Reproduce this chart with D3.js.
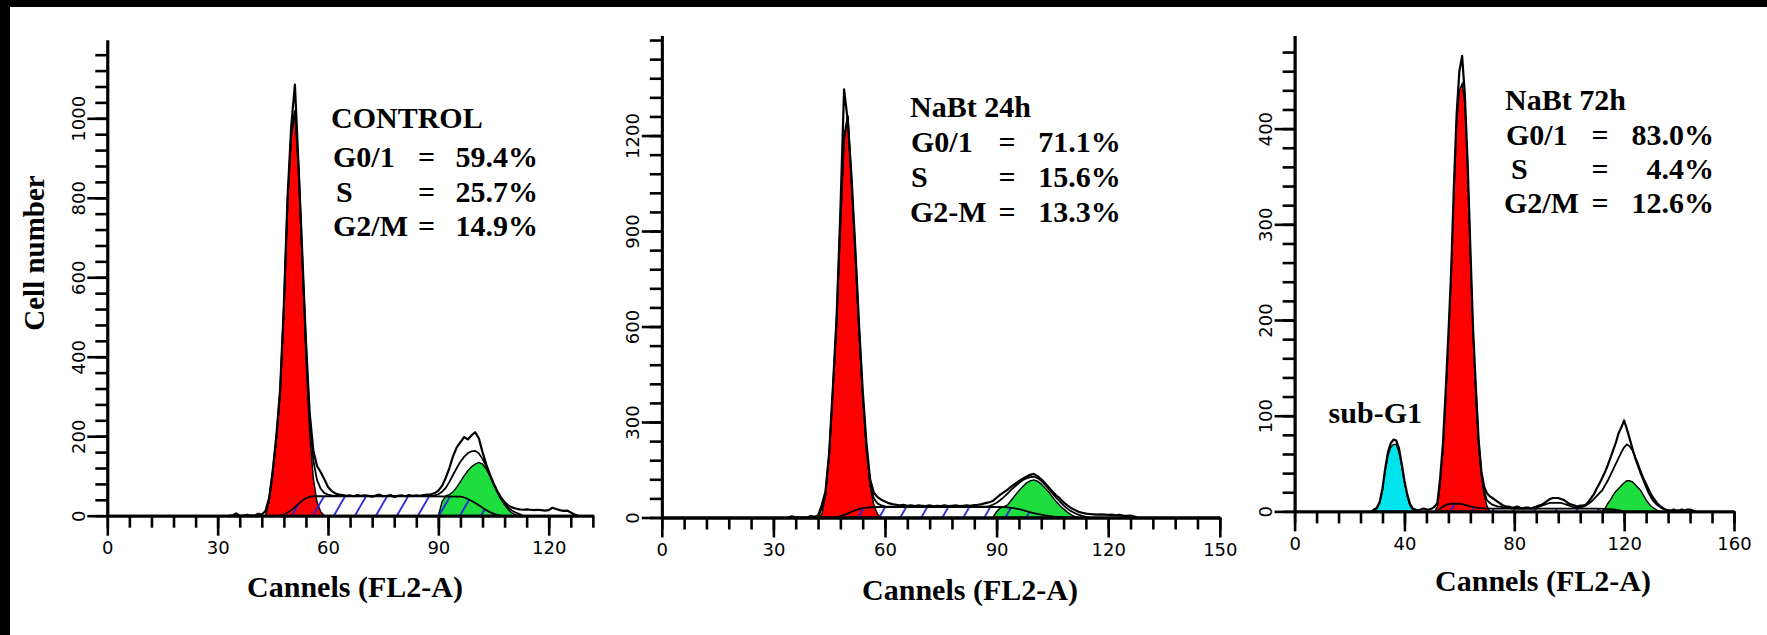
<!DOCTYPE html>
<html>
<head>
<meta charset="utf-8">
<script src="https://cdn.jsdelivr.net/npm/d3@7"></script>
<style>
  body { margin: 0; background: #fff; }
  svg { display: block; }
</style>
</head>
<body>
<div id="chart"></div>
<script>
// ---- CONTROL ----
const p1RawStart = 33;
const p1Raw = [0, 0, 6, 0, 0, 2, 0, 0, 5, 3, 12, 45, 115, 205, 320, 530, 800, 980, 1085, 880,
  660, 440, 260, 165, 125, 110, 92, 72, 62, 56, 53, 52, 50, 51, 49, 52, 50, 51, 50, 48,
  51, 53, 49, 50, 52, 47, 50, 51, 49, 52, 50, 51, 50, 52, 53, 54, 57, 63, 75, 95,
  120, 150, 172, 185, 198, 192, 202, 210, 195, 160, 130, 104, 82, 62, 46, 34, 26, 21, 18, 16,
  15, 16, 15, 14, 15, 14, 13, 14, 20, 17, 14, 12, 13, 8, 3, 0];
const p1FitStart = 43;
const p1Fit = [8, 42, 112, 200, 315, 525, 790, 960, 1020, 875, 650, 425, 245, 140, 90, 68, 57, 53, 51,
  50, 50, 50, 50, 50, 50, 50, 50, 50, 50, 50, 50, 50, 50, 50, 50, 50, 50, 50, 50, 50, 50, 50, 50, 50, 50, 50,
  51, 54, 60, 70, 85, 103, 120, 136, 148, 157, 162, 163, 157, 143, 124, 102, 80, 60, 43, 30, 20, 13, 8, 4, 0];
const p1G1Start = 43;
const p1G1 = [0, 35, 105, 195, 305, 515, 780, 950, 1015, 870, 640, 400, 210, 95, 35, 10, 0];
const p1G2Start = 90;
const p1G2 = [0, 35, 50, 53, 60, 72, 86, 100, 113, 123, 130, 134, 130, 118, 100, 80, 60, 42, 27, 15, 7, 2, 0];
const p1SCh = [47, 48, 50, 52, 54, 56, 70, 85, 96, 98, 100, 102, 104, 106, 107];
const p1SVal = [0, 3, 14, 30, 44, 49, 49, 49, 48, 42, 32, 20, 9, 2, 0];
const p1Title = "CONTROL";
const p1Labels = ["G0/1", "S", "G2/M"];
const p1Values = ["59.4%", "25.7%", "14.9%"];
const p1XTicks = [0, 30, 60, 90, 120];
const p1YTicks = [0, 200, 400, 600, 800, 1000];

// ---- NaBt 24h ----
const p2RawStart = 34;
const p2Raw = [0, 4, 0, 0, 0, 0, 5, 2, 6, 38, 82, 205, 410, 632, 960, 1345, 1245, 1070, 850, 610,
  400, 235, 120, 78, 64, 56, 50, 45, 42, 40, 38, 40, 37, 38, 36, 38, 37, 36, 38, 35,
  37, 36, 38, 36, 37, 38, 36, 37, 38, 37, 39, 40, 42, 45, 48, 52, 62, 72, 80, 88,
  98, 106, 114, 122, 128, 134, 137, 130, 120, 108, 95, 82, 70, 60, 48, 38, 30, 24, 18, 15,
  12, 11, 10, 9, 10, 9, 8, 9, 7, 8, 6, 5, 6, 3, 0];
const p2FitStart = 42;
const p2Fit = [0, 30, 75, 198, 405, 620, 930, 1200, 1262, 1055, 835, 595, 385, 222, 108, 60, 44, 38, 35,
  34, 34, 34, 34, 34, 34, 34, 34, 34, 34, 34, 34, 34, 34, 34, 34, 34, 34, 34, 34, 34, 34, 34, 34, 34, 34, 34,
  36, 40, 46, 55, 65, 76, 88, 98, 108, 117, 123, 127, 128, 124, 115, 103, 90, 76, 62, 50, 38, 28, 20, 14, 9, 5, 2, 0];
const p2G1Start = 42;
const p2G1 = [0, 10, 70, 195, 400, 615, 900, 1180, 1262, 1050, 830, 590, 380, 215, 100, 40, 10, 0];
const p2G2Start = 89;
const p2G2 = [0, 18, 30, 34, 40, 55, 70, 84, 97, 108, 115, 118, 114, 105, 93, 80, 65, 50, 38, 27, 17, 9, 3, 0];
const p2SCh = [47, 49, 51, 53, 55, 58, 70, 85, 92, 94, 96, 98, 100, 102, 104, 106, 108];
const p2SVal = [0, 8, 18, 26, 31, 33, 33, 33, 33, 30, 26, 20, 14, 9, 5, 2, 0];
const p2Title = "NaBt 24h";
const p2Labels = ["G0/1", "S", "G2-M"];
const p2Values = ["71.1%", "15.6%", "13.3%"];
const p2XTicks = [0, 30, 60, 90, 120, 150];
const p2YTicks = [0, 300, 600, 900, 1200];

// ---- NaBt 72h ----
const p3RawStart = 28;
const p3Raw = [0, 2, 4, 10, 24, 45, 62, 71, 75, 74, 66, 50, 32, 18, 8, 3, 2, 1, 2, 3,
  2, 2, 3, 5, 9, 35, 70, 125, 185, 250, 340, 415, 460, 476, 435, 365, 275, 190, 130, 75,
  42, 26, 19, 16, 14, 12, 10, 8, 6, 5, 5, 4, 4, 5, 4, 3, 4, 4, 3, 4,
  5, 6, 7, 9, 11, 13, 14, 14, 14, 13, 12, 10, 8, 7, 6, 5, 6, 6, 7, 10,
  14, 18, 24, 29, 35, 41, 48, 56, 64, 72, 82, 88, 95, 86, 76, 66, 56, 48, 40, 33,
  26, 19, 14, 10, 7, 5, 3, 2, 1, 1, 2, 1, 1, 2, 1, 2, 2, 1, 0];
const p3FitStart = 66;
const p3Fit = [124, 72, 40, 21, 12, 9, 7, 6, 5, 5, 4, 4, 4, 3, 3, 3, 3, 3, 3, 3, 3, 3, 4, 5,
  6, 7, 8, 9, 9, 9, 9, 9, 8, 7, 6, 5, 4, 4, 4, 5, 6, 8, 10, 13, 16, 19, 22, 27, 32, 38,
  44, 50, 56, 62, 67, 70, 68, 64, 57, 50, 42, 35, 29, 23, 17, 13, 9, 6, 4, 2, 1, 0];
const p3G1Start = 51;
const p3G1 = [0, 5, 28, 62, 115, 178, 245, 330, 405, 440, 447, 425, 360, 270, 185, 122, 70, 38, 18, 6, 0];
const p3G2Start = 112;
const p3G2 = [0, 3, 8, 12, 17, 21, 24, 27, 30, 32, 32, 31, 28, 25, 22, 17, 12, 8, 5, 3, 1, 0];
const p3SubStart = 29;
const p3SubG1 = [0, 3, 9, 22, 42, 58, 67, 70, 70, 62, 47, 30, 16, 6, 2, 0];
const p3SCh = [52, 54, 57, 60, 63, 66, 72, 90, 110, 116, 120];
const p3SVal = [0, 5, 8, 8, 6, 4, 3, 3, 3, 2, 0];
const p3Title = "NaBt 72h";
const p3Labels = ["G0/1", "S", "G2/M"];
const p3Values = ["83.0%", "4.4%", "12.6%"];
const p3XTicks = [0, 40, 80, 120, 160];
const p3YTicks = [0, 100, 200, 300, 400];

const W = 1767, H = 635;
const serif = "'Liberation Serif', 'Times New Roman', serif";
const tickFont = "'DejaVu Sans', sans-serif";

function series(start, vals) {
  return vals.map((v, i) => ({ c: start + i, v: v }));
}
function pairs(chs, vals) {
  return chs.map((c, i) => ({ c: c, v: vals[i] }));
}

const panels = [
  {
    raw: series(p1RawStart, p1Raw), fit: series(p1FitStart, p1Fit),
    g1: series(p1G1Start, p1G1), g2: series(p1G2Start, p1G2), s: pairs(p1SCh, p1SVal),
    title: p1Title, labels: p1Labels, values: p1Values, xTicks: p1XTicks, yTicks: p1YTicks,
    x0: 107.3, x1: 593.6, xEnd: 132.2, xStep: 6,
    y0: 515.7, y1: 40, yEnd: 1197, yStep: 40,
    tx: 331, ty: 128, lx: [333, 336, 333], eqX: 426.6, vx: 538, ly: [167, 202, 236],
    axTitleX: 355, axTitleY: 597
  },
  {
    raw: series(p2RawStart, p2Raw), fit: series(p2FitStart, p2Fit),
    g1: series(p2G1Start, p2G1), g2: series(p2G2Start, p2G2), s: pairs(p2SCh, p2SVal),
    title: p2Title, labels: p2Labels, values: p2Values, xTicks: p2XTicks, yTicks: p2YTicks,
    x0: 661.8, x1: 1219.8, xEnd: 150, xStep: 6,
    y0: 517.5, y1: 35.4, yEnd: 1514.6, yStep: 60,
    tx: 910, ty: 117, lx: [911, 911, 910], eqX: 1007, vx: 1120.7, ly: [152, 187, 222],
    axTitleX: 970, axTitleY: 600
  },
  {
    raw: series(p3RawStart, p3Raw), fit: series(p3FitStart, p3Fit),
    g1: series(p3G1Start, p3G1), g2: series(p3G2Start, p3G2), s: pairs(p3SCh, p3SVal),
    sub: series(p3SubStart, p3SubG1),
    title: p3Title, labels: p3Labels, values: p3Values, xTicks: p3XTicks, yTicks: p3YTicks,
    x0: 1294.6, x1: 1734, xEnd: 160, xStep: 8,
    y0: 511.4, y1: 35.4, yEnd: 497.4, yStep: 20,
    tx: 1505, ty: 110, lx: [1506, 1511, 1504], eqX: 1600, vx: 1714, ly: [145, 179, 213],
    axTitleX: 1543, axTitleY: 591
  }
];

const svg = d3.select("#chart").append("svg")
  .attr("width", W)
  .attr("height", H);

svg.append("rect").attr("width", W).attr("height", H).attr("fill", "#fff");
// black frame strips at top and left of the scan
svg.append("rect").attr("x", 0).attr("y", 0).attr("width", W).attr("height", 7).attr("fill", "#000");
svg.append("rect").attr("x", 0).attr("y", 0).attr("width", 10).attr("height", H).attr("fill", "#000");

// blue diagonal hatch for S phase
const pat = svg.append("defs").append("pattern")
  .attr("id", "hatch")
  .attr("patternUnits", "userSpaceOnUse")
  .attr("width", 18.2).attr("height", 18.2)
  .attr("patternTransform", "rotate(30)");
pat.append("line")
  .attr("x1", 1).attr("y1", 0).attr("x2", 1).attr("y2", 18.2)
  .attr("stroke", "#2424d8").attr("stroke-width", 1.8);

panels.forEach(p => {
  const g = svg.append("g");
  const x = d3.scaleLinear().domain([0, p.xEnd]).range([p.x0, p.x1]);
  const y = d3.scaleLinear().domain([0, p.yEnd]).range([p.y0, p.y1]);

  const area = d3.area().x(d => x(d.c)).y0(y(0)).y1(d => y(d.v));
  const line = d3.line().x(d => x(d.c)).y(d => y(d.v));
  const sArea = d3.area().x(d => x(d.c)).y0(y(0)).y1(d => y(d.v)).curve(d3.curveMonotoneX);
  const sLine = d3.line().x(d => x(d.c)).y(d => y(d.v)).curve(d3.curveMonotoneX);

  if (p.sub) {
    g.append("path").datum(p.sub).attr("d", area)
      .attr("fill", "#00e4ee").attr("stroke", "#000").attr("stroke-width", 1.4);
  }
  g.append("path").datum(p.g1).attr("d", area)
    .attr("fill", "#ff0000").attr("stroke", "#000").attr("stroke-width", 1.4);
  g.append("path").datum(p.g2).attr("d", area)
    .attr("fill", "#1fdc3f").attr("stroke", "#000").attr("stroke-width", 1.4);

  g.append("path").datum(p.s).attr("d", sArea).attr("fill", "url(#hatch)");
  g.append("path").datum(p.s).attr("d", sLine)
    .attr("fill", "none").attr("stroke", "#000").attr("stroke-width", 1.8);

  g.append("path").datum(p.fit).attr("d", line)
    .attr("fill", "none").attr("stroke", "#000").attr("stroke-width", 1.8);
  g.append("path").datum(p.raw).attr("d", line)
    .attr("fill", "none").attr("stroke", "#000").attr("stroke-width", 2.2)
    .attr("stroke-linejoin", "round");

  // axes: minor and major ticks drawn as two passes
  const fmt = d3.format("d");
  const xMinor = d3.axisBottom(x).tickValues(d3.range(0, p.xEnd + 0.01, p.xStep))
    .tickSize(12).tickFormat("").tickSizeOuter(0);
  const xMajor = d3.axisBottom(x).tickValues(p.xTicks).tickFormat(fmt)
    .tickSize(20).tickPadding(6).tickSizeOuter(0);
  const yMinor = d3.axisLeft(y).tickValues(d3.range(0, p.yEnd, p.yStep))
    .tickSize(12).tickFormat("").tickSizeOuter(0);
  const yMajor = d3.axisLeft(y).tickValues(p.yTicks).tickFormat(fmt)
    .tickSize(20).tickSizeOuter(0);

  [xMinor, xMajor].forEach(ax => {
    g.append("g").attr("class", "xax").attr("transform", "translate(0," + p.y0 + ")").call(ax);
  });
  [yMinor, yMajor].forEach(ax => {
    g.append("g").attr("class", "yax").attr("transform", "translate(" + p.x0 + ",0)").call(ax);
  });

  g.selectAll(".domain").attr("stroke", "#000").attr("stroke-width", 2.8);
  g.selectAll(".tick line").attr("stroke", "#000").attr("stroke-width", 2.6);
  g.selectAll(".tick text")
    .attr("font-family", tickFont).attr("font-size", 18).attr("fill", "#000");

  // y tick labels are rotated, reading upwards
  g.selectAll(".yax .tick text")
    .attr("transform", "rotate(-90)")
    .attr("x", 0).attr("y", -29).attr("dy", "0.36em")
    .attr("text-anchor", "middle");

  // annotation block
  const tf = t => t.attr("font-family", serif).attr("font-weight", "bold").attr("font-size", 30).attr("fill", "#000");
  g.append("text").attr("x", p.tx).attr("y", p.ty).text(p.title).call(tf);
  p.labels.forEach((lab, i) => {
    g.append("text").attr("x", p.lx[i]).attr("y", p.ly[i]).text(lab).call(tf);
    g.append("text").attr("x", p.eqX).attr("y", p.ly[i]).attr("text-anchor", "middle").text("=").call(tf);
    g.append("text").attr("x", p.vx).attr("y", p.ly[i]).attr("text-anchor", "end").text(p.values[i]).call(tf);
  });

  g.append("text")
    .attr("x", p.axTitleX).attr("y", p.axTitleY)
    .attr("text-anchor", "middle")
    .text("Cannels (FL2-A)").call(tf);

  if (p.sub) {
    g.append("text").attr("x", 1328.6).attr("y", 423).text("sub-G1").call(tf);
  }
});

svg.append("text")
  .attr("transform", "translate(44,253) rotate(-90)")
  .attr("text-anchor", "middle")
  .attr("font-family", serif).attr("font-weight", "bold").attr("font-size", 29)
  .text("Cell number");
</script>
</body>
</html>
